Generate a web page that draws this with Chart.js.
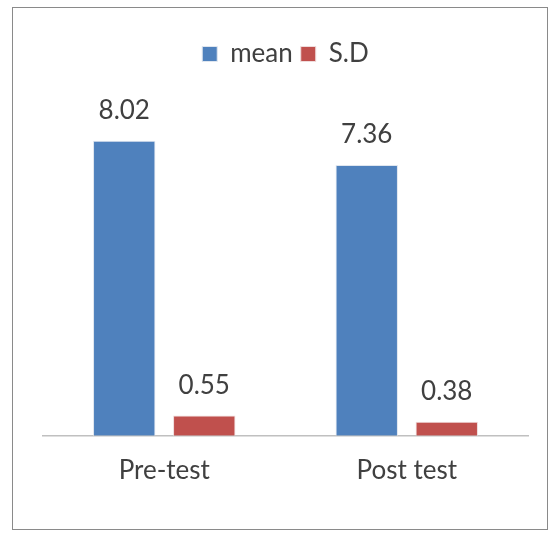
<!DOCTYPE html>
<html>
<head>
<meta charset="utf-8">
<script src="https://cdn.jsdelivr.net/npm/chart.js@4"></script>
<style>
  body { margin: 0; background: #fff; }
  #frame { position: absolute; left: 12px; top: 7px; width: 534px; height: 521px; border: 1.5px solid #8a8a8a; }
  #wrap { position: absolute; left: 0; top: 0; width: 553px; height: 533px; }
</style>
</head>
<body>
<div id="frame"></div>
<div id="wrap"><canvas id="myChart" width="553" height="533"></canvas></div>
<script>
const categories = ['Pre-test', 'Post test'];
const meanValues = [8.02, 7.36];
const sdValues = [0.55, 0.38];
const valueLabels = [['8.02', '7.36'], ['0.55', '0.38']];

const FONT = 'Lato, "Open Sans", sans-serif';

// draws the number above each bar
const barValues = {
    id: 'barValues',
    afterDatasetsDraw(chart) {
        const ctx = chart.ctx;
        ctx.save();
        ctx.font = '26px ' + FONT;
        ctx.fillStyle = '#404040';
        ctx.textAlign = 'center';
        ctx.textBaseline = 'alphabetic';
        chart.data.datasets.forEach((ds, i) => {
            chart.getDatasetMeta(i).data.forEach((bar, j) => {
                ctx.fillText(valueLabels[i][j], bar.x, bar.y - 22);
            });
        });
        ctx.restore();
    }
};

const ctx = document.getElementById('myChart').getContext('2d');
new Chart(ctx, {
    type: 'bar',
    data: {
        labels: categories,
        datasets: [
            { label: 'mean', data: meanValues, backgroundColor: '#4F81BD', borderColor: '#dfe6ef', borderWidth: 1 },
            { label: 'S.D', data: sdValues, backgroundColor: '#C0504D', borderColor: '#efdcdc', borderWidth: 1 }
        ]
    },
    options: {
        responsive: false,
        animation: false,
        layout: { padding: { left: 43, right: 25, top: 33, bottom: 36 } },
        datasets: { bar: { categoryPercentage: 0.66, barPercentage: 0.78 } },
        plugins: {
            legend: {
                labels: {
                    boxWidth: 15, boxHeight: 15, padding: 8, color: '#404040',
                    font: { size: 26, family: FONT }
                }
            },
            tooltip: { enabled: false }
        },
        scales: {
            x: {
                grid: { display: false },
                border: { display: true, color: '#c0c0c0', width: 1.5 },
                ticks: { color: '#404040', padding: 11, font: { size: 26, family: FONT } }
            },
            y: { display: false, min: 0, max: 9.75 }
        }
    },
    plugins: [barValues]
});
</script>
</body>
</html>
